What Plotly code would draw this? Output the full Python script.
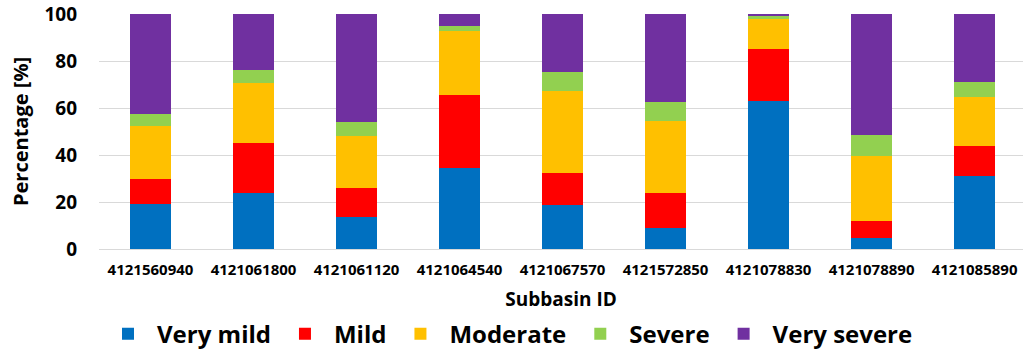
import plotly.graph_objects as go

subbasins = ["4121560940", "4121061800", "4121061120", "4121064540", "4121067570",
             "4121572850", "4121078830", "4121078890", "4121085890"]
very_mild = [19.0, 23.7, 13.6, 34.3, 18.7, 8.9, 62.9, 4.7, 31.2]
mild = [11.0, 21.2, 12.5, 31.4, 13.7, 15.0, 22.2, 7.3, 12.6]
moderate = [22.3, 25.8, 21.8, 26.9, 34.7, 30.6, 12.6, 27.7, 20.9]
severe = [5.1, 5.5, 6.3, 2.4, 8.1, 8.1, 1.3, 9.0, 6.4]
very_severe = [42.6, 23.8, 45.8, 5.0, 24.8, 37.4, 1.0, 51.3, 28.9]

series = [
    ("Very mild", very_mild, "#0070C0"),
    ("Mild", mild, "#FF0000"),
    ("Moderate", moderate, "#FFC000"),
    ("Severe", severe, "#92D050"),
    ("Very severe", very_severe, "#7030A0"),
]

FONT = "Open Sans"

fig = go.Figure()
for name, vals, col in series:
    fig.add_trace(go.Bar(
        x=list(range(len(subbasins))), y=vals, name=name,
        marker=dict(color=col, line=dict(width=0)),
        width=0.4,
    ))

fig.update_layout(
    barmode="stack",
    width=1023, height=352,
    margin=dict(l=99, r=0, t=14, b=103, autoexpand=False),
    paper_bgcolor="white", plot_bgcolor="white",
    font=dict(family=FONT, color="black"),
    showlegend=True,
    legend=dict(
        orientation="h", x=0.0, xanchor="left", y=-0.362, yanchor="middle",
        font=dict(family=FONT, size=24, weight="bold", color="black"),
        itemsizing="constant", traceorder="normal", itemwidth=48,
    ),
    xaxis=dict(
        range=[-0.5, 8.47],
        tickmode="array", tickvals=list(range(len(subbasins))), ticktext=subbasins,
        tickfont=dict(family=FONT, size=15, weight="bold"),
        showgrid=False, zeroline=False, showline=False, ticks="", ticklabelstandoff=10,
        title=dict(text="Subbasin ID", font=dict(family=FONT, size=19, weight="bold"), standoff=14),
    ),
    yaxis=dict(
        range=[0, 100], dtick=20, tick0=0,
        tickfont=dict(family=FONT, size=19, weight="bold"),
        showgrid=True, gridcolor="#D9D9D9", gridwidth=1,
        zeroline=True, zerolinecolor="#D9D9D9", zerolinewidth=1,
        showline=False, ticks="", ticklabelstandoff=21,
        title=dict(text="Percentage [%]", font=dict(family=FONT, size=20, weight="bold"), standoff=10),
    ),
)

fig.write_html("out.html")
